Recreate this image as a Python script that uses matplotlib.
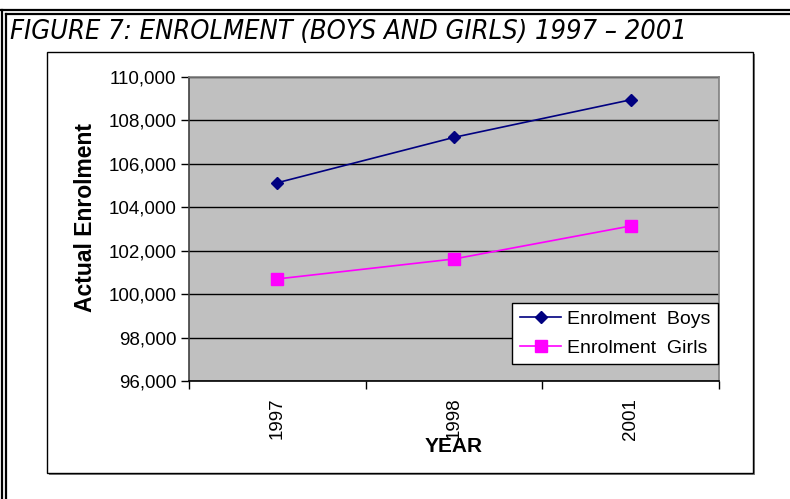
import matplotlib
matplotlib.use("Agg")
import matplotlib.pyplot as plt
from matplotlib.patches import Rectangle
from matplotlib.lines import Line2D
from matplotlib.ticker import FuncFormatter, FixedLocator

years = ["1997", "1998", "2001"]
boys = [105130, 107220, 108950]
girls = [100700, 101620, 103140]

W, H = 790, 499
fig = plt.figure(figsize=(W / 100, H / 100), dpi=100)

def fx(px):
    return px / W

def fy(py):
    return 1 - py / H

# outer double border
for y in (10, 13.8):
    fig.add_artist(Line2D([fx(1 if y == 10 else 6), 1], [fy(y), fy(y)], color="black", lw=1.6))
for x in (2.2, 6.2):
    fig.add_artist(Line2D([fx(x), fx(x)], [fy(10 if x == 2.2 else 13.8), 0], color="black", lw=1.6))

# inner chart box with shadow
fig.add_artist(Rectangle((fx(49), fy(475)), fx(706), 421 / H, facecolor="#808080", edgecolor="none", zorder=-3))
fig.add_artist(Rectangle((fx(47), fy(473)), fx(706), 421 / H, facecolor="white", edgecolor="black", lw=1.0, zorder=-2))

fig.text(fx(10), fy(32), "FIGURE 7: ENROLMENT (BOYS AND GIRLS) 1997 \u2013 2001",
         fontsize=19.5, style="italic", family="DejaVu Sans", fontstretch="condensed",
         va="center", ha="left", color="black")

ax = fig.add_axes([fx(189), fy(381), 530 / W, 304 / H])
ax.set_facecolor("#C0C0C0")
x = list(range(len(years)))
ax.plot(x, boys, color="#000080", marker="D", markersize=6.5, lw=1.2, label="Enrolment  Boys", zorder=3)
ax.plot(x, girls, color="#FF00FF", marker="s", markersize=8, lw=1.2, label="Enrolment  Girls", zorder=3)

ax.set_xlim(-0.5, len(years) - 0.5)
ax.set_ylim(96000, 110000)
ax.set_yticks(range(96000, 110001, 2000))
ax.yaxis.set_major_formatter(FuncFormatter(lambda v, p: f"{int(v):,}"))
ax.set_xticks(x)
ax.set_xticklabels(years, rotation=90, fontsize=13.5, family="Liberation Sans")
ax.xaxis.set_minor_locator(FixedLocator([-0.5, 0.5, 1.5, 2.5]))
ax.tick_params(axis="x", which="major", length=0, pad=12)
ax.tick_params(axis="x", which="minor", length=6, width=1, color="black", direction="out")
ax.tick_params(axis="y", length=6, width=1, direction="out", labelsize=13.5, pad=3)
for lbl in ax.get_yticklabels():
    lbl.set_family("Liberation Sans")
ax.grid(axis="y", color="black", lw=1.0, zorder=1)
ax.set_axisbelow(True)
ax.spines["left"].set_color("#404040")
ax.spines["bottom"].set_color("black")
ax.spines["top"].set_color("#808080")
ax.spines["right"].set_color("#808080")
for s in ax.spines.values():
    s.set_linewidth(1.2)

leg = ax.legend(loc="lower right", bbox_to_anchor=(0.998, 0.055), frameon=True, fancybox=False,
                framealpha=1, edgecolor="black", prop={"family": "Liberation Sans", "size": 14},
                handlelength=2.1, borderpad=0.4, labelspacing=0.55, handletextpad=0.3, borderaxespad=0)
leg.get_frame().set_linewidth(1.0)

fig.text(fx(85), fy(218), "Actual Enrolment", rotation=90, fontsize=16.5, fontweight="bold",
         family="Liberation Sans", ha="center", va="center")
fig.text(fx(454), fy(447), "YEAR", fontsize=15, fontweight="bold", family="Liberation Sans",
         ha="center", va="center")

fig.savefig("out.png", dpi=100)
